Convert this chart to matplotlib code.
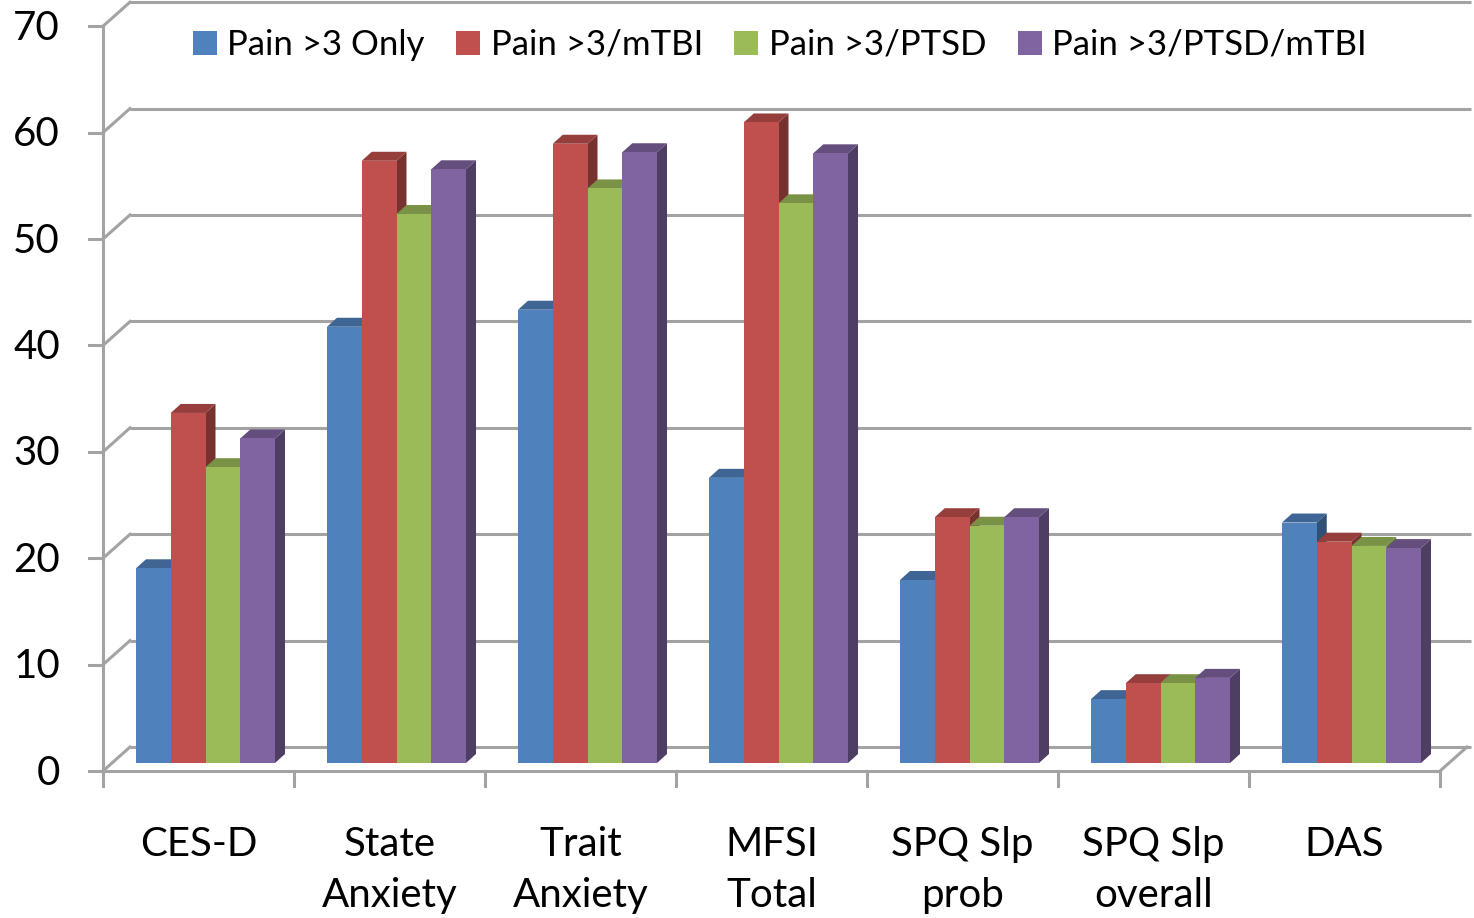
import matplotlib
matplotlib.use("Agg")
import matplotlib.pyplot as plt
from matplotlib.patches import Polygon, Patch
from matplotlib.colors import to_rgb
import numpy as np

plt.rcParams['font.family'] = ['Lato', 'DejaVu Sans']

categories = ["CES-D", "State\nAnxiety", "Trait\nAnxiety", "MFSI\nTotal",
              "SPQ Slp\nprob", "SPQ Slp\noverall", "DAS"]
series = ["Pain >3 Only", "Pain >3/mTBI", "Pain >3/PTSD", "Pain >3/PTSD/mTBI"]
pain_only = [18.3, 41.0, 42.6, 26.8, 17.2, 6.0, 22.6]
pain_mtbi = [32.9, 56.6, 58.2, 60.2, 23.1, 7.5, 20.8]
pain_ptsd = [27.8, 51.6, 54.0, 52.6, 22.3, 7.5, 20.4]
pain_ptsd_mtbi = [30.5, 55.8, 57.4, 57.3, 23.1, 8.0, 20.2]
values = [pain_only, pain_mtbi, pain_ptsd, pain_ptsd_mtbi]
colors = ["#4f81bd", "#c0504d", "#9bbb59", "#8064a2"]
yticks = [0, 10, 20, 30, 40, 50, 60, 70]

# pixel geometry of the fake 3d frame
W, H = 1474, 918
px_cat = 191.0      # px per category on front floor
px_val = 10.64      # px per value unit
x0_px = 198.5       # centre of first category on front floor
y0_px = 771.0       # value 0 on the front plane

fig = plt.figure(figsize=(W / 100, H / 100), dpi=100)
ax = fig.add_axes([0, 0, 1, 1])
ax.set_xlim(-x0_px / px_cat, (W - x0_px) / px_cat)
ax.set_ylim(-(H - y0_px) / px_val, y0_px / px_val)
ax.axis('off')

# depth offsets (data units)
back = (27 / px_cat, 24 / px_val)
bar_plane = (7 / px_cat, 8 / px_val)
bar_depth = (10 / px_cat, 9 / px_val)

grid_c = "#a3a3a3"
lw = 2.2
n = len(categories)
left, right = -0.5, n - 0.5

# back wall gridlines + left wall diagonals
for v in yticks:
    ax.plot([left + back[0], right + back[0] + 0.02], [v + back[1], v + back[1]],
            color=grid_c, lw=lw, zorder=1, solid_capstyle='butt')
    ax.plot([left, left + back[0]], [v, v + back[1]], color=grid_c, lw=lw, zorder=1)
    ax.plot([left - 0.075, left], [v, v], color=grid_c, lw=lw, zorder=1)
    ax.text(left - 0.225, v - 0.2, str(v), ha='right', va='center', fontsize=29, color='black')

# front axis and floor
ax.plot([left, left], [0, yticks[-1]], color=grid_c, lw=lw, zorder=1)
ax.plot([left, right], [0, 0], color=grid_c, lw=lw, zorder=1)
ax.plot([right, right + back[0]], [0, back[1]], color=grid_c, lw=lw, zorder=1)
for i in range(n + 1):
    ax.plot([left + i, left + i], [0, -1.4], color=grid_c, lw=lw, zorder=1)

# category labels
for i, lab in enumerate(categories):
    ax.text(i, -5.2, lab, ha='center', va='top', fontsize=29, linespacing=1.45)


def shade(c, f):
    r, g, b = to_rgb(c)
    return (r * f, g * f, b * f)


bw = 139 / 4 / px_cat
for i in range(n):
    start = i - 2 * bw + bar_plane[0]
    for s in range(len(series)):
        v = values[s][i]
        xl = start + s * bw
        xr = xl + bw
        y0 = bar_plane[1]
        y1 = y0 + v
        dx, dy = bar_depth
        front = Polygon([(xl, y0), (xr, y0), (xr, y1), (xl, y1)],
                        closed=True, fc=colors[s], ec='none', zorder=3)
        top = Polygon([(xl, y1), (xr, y1), (xr + dx, y1 + dy), (xl + dx, y1 + dy)],
                      closed=True, fc=shade(colors[s], 0.78), ec='none', zorder=3)
        side = Polygon([(xr, y0), (xr + dx, y0 + dy), (xr + dx, y1 + dy), (xr, y1)],
                       closed=True, fc=shade(colors[s], 0.62), ec='none', zorder=3)
        for p in (side, top, front):
            ax.add_patch(p)

handles = [Patch(fc=c, ec='none') for c in colors]
fig.legend(handles, series, loc='center', bbox_to_anchor=(0.529, 0.951), ncol=4,
           frameon=False, fontsize=25, handlelength=0.7, handleheight=0.7,
           handletextpad=0.3, columnspacing=0.9)

fig.savefig("out.png", dpi=100)
